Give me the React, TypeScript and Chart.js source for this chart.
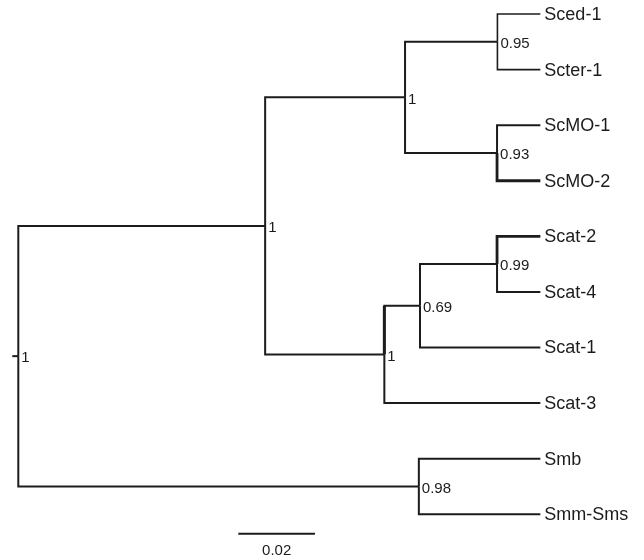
import React, { useEffect, useRef } from "react";
import { Chart, registerables } from "chart.js";

Chart.register(...registerables);

// Leaves (top to bottom) and their distance from the root
const leafNames = ["Sced-1", "Scter-1", "ScMO-1", "ScMO-2", "Scat-2", "Scat-4", "Scat-1", "Scat-3", "Smb", "Smm-Sms"];
const leafDepths = [0.1362, 0.1362, 0.1362, 0.1362, 0.1362, 0.1362, 0.1362, 0.1362, 0.1362, 0.1362];

// Internal nodes: id, distance from root, posterior support, children
const nodeIds = ["root", "n1", "n2", "n3", "n4", "n5", "n6", "n7", "n8"];
const nodeDepths = [0, 0.0644, 0.1009, 0.125, 0.1249, 0.0955, 0.1048, 0.1249, 0.1045];
const nodeSupport = ["1", "1", "1", "0.95", "0.93", "1", "0.69", "0.99", "0.98"];
const nodeChildren = [
  ["n1", "n8"],
  ["n2", "n5"],
  ["n3", "n4"],
  ["Sced-1", "Scter-1"],
  ["ScMO-1", "ScMO-2"],
  ["n6", "Scat-3"],
  ["n7", "Scat-1"],
  ["Scat-2", "Scat-4"],
  ["Smb", "Smm-Sms"],
];

// Scale bar
const scaleBarStart = 0.0574;
const scaleBarLength = 0.02;
const scaleBarLabel = "0.02";

// styles (not data)
const thickBranches = ["ScMO-2", "Scat-2"];
const thickVerticalOnly = ["n6"];
const thinBranches = ["Sced-1", "Scter-1"];
const INK = "#1c1c1c";
const FONT = "'Liberation Sans', Arial, Helvetica, sans-serif";

function buildTree() {
  const pos: Record<string, { x: number; y: number }> = {};
  leafNames.forEach((n, i) => (pos[n] = { x: leafDepths[i], y: i }));
  const idx: Record<string, number> = {};
  nodeIds.forEach((id, i) => (idx[id] = i));
  const place = (id: string): { x: number; y: number } => {
    if (pos[id]) return pos[id];
    const i = idx[id];
    const ch = nodeChildren[i].map(place);
    const y = (ch[0].y + ch[ch.length - 1].y) / 2;
    pos[id] = { x: nodeDepths[i], y };
    return pos[id];
  };
  place("root");
  const edges: { child: string; pts: { x: number; y: number }[] }[] = [];
  nodeIds.forEach((id, i) => {
    const p = pos[id];
    nodeChildren[i].forEach((c) => {
      const q = pos[c];
      edges.push({
        child: c,
        pts: [
          { x: p.x, y: p.y },
          { x: p.x, y: q.y },
          { x: q.x, y: q.y },
        ],
      });
    });
  });
  return { pos, edges };
}

export default function App() {
  const ref = useRef<HTMLCanvasElement | null>(null);

  useEffect(() => {
    document.body.style.margin = "0";
    const { pos, edges } = buildTree();
    const xPerPx = 1 / 3833;
    const yPerPx = 1 / 55.58;
    const rootPos = pos["root"];

    const line = (data: any[], w: number) => ({
      data,
      showLine: true,
      pointRadius: 0,
      borderColor: INK,
      borderWidth: w,
      borderJoinStyle: "miter",
      borderCapStyle: "butt",
      fill: false,
    });

    const datasets: any[] = edges.map((e) =>
      line(e.pts, thickBranches.includes(e.child) ? 2.8 : thinBranches.includes(e.child) ? 1.6 : 2)
    );
    edges
      .filter((e) => thickVerticalOnly.includes(e.child))
      .forEach((e) => datasets.push(line(e.pts.slice(0, 2), 3)));
    // root stub
    datasets.push(
      line(
        [
          { x: rootPos.x - 6 * xPerPx, y: rootPos.y },
          { x: rootPos.x, y: rootPos.y },
        ],
        2
      )
    );
    // scale bar
    const barY = 9.35;
    datasets.push(
      line(
        [
          { x: scaleBarStart, y: barY },
          { x: scaleBarStart + scaleBarLength, y: barY },
        ],
        2
      )
    );

    const labelPlugin = {
      id: "treeLabels",
      afterDatasetsDraw(chart: any) {
        const ctx = chart.ctx;
        const xs = chart.scales.x;
        const ys = chart.scales.y;
        ctx.save();
        ctx.fillStyle = INK;
        ctx.textBaseline = "middle";
        ctx.textAlign = "left";
        ctx.font = `18px ${FONT}`;
        leafNames.forEach((n) => {
          const p = pos[n];
          ctx.fillText(n, xs.getPixelForValue(p.x) + 4, ys.getPixelForValue(p.y) + 1);
        });
        ctx.font = `15px ${FONT}`;
        nodeIds.forEach((id, i) => {
          const p = pos[id];
          ctx.fillText(nodeSupport[i], xs.getPixelForValue(p.x) + 3, ys.getPixelForValue(p.y) + 2);
        });
        ctx.textAlign = "center";
        ctx.fillText(
          scaleBarLabel,
          xs.getPixelForValue(scaleBarStart + scaleBarLength / 2),
          ys.getPixelForValue(barY) + 17
        );
        ctx.restore();
      },
    };

    const chart = new Chart(ref.current as HTMLCanvasElement, {
      type: "scatter",
      data: { datasets },
      options: {
        animation: false,
        responsive: true,
        maintainAspectRatio: false,
        layout: { padding: 0 },
        plugins: { legend: { display: false }, tooltip: { enabled: false } },
        scales: {
          x: { type: "linear", display: false, min: -18.3 * xPerPx, max: (644 - 18.3) * xPerPx },
          y: { type: "linear", display: false, reverse: true, min: -14 * yPerPx, max: (560 - 14) * yPerPx },
        },
      },
      plugins: [labelPlugin],
    });
    return () => chart.destroy();
  }, []);

  return (
    <div style={{ position: "absolute", left: 0, top: 0, width: 644, height: 560, background: "#fff" }}>
      <canvas ref={ref} />
    </div>
  );
}
